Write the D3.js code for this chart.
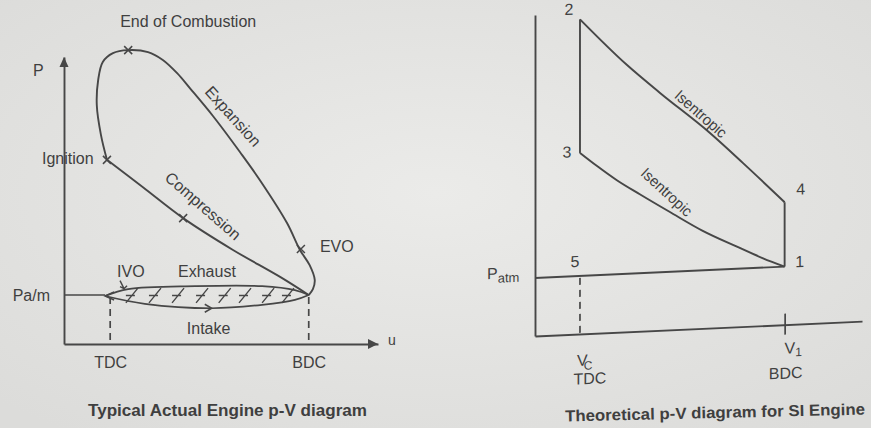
<!DOCTYPE html>
<html>
<head>
<meta charset="utf-8">
<script src="https://cdn.jsdelivr.net/npm/d3@7"></script>
<style>
  body { margin: 0; background: #e6e6e4; }
  svg { display: block; }
  text { font-family: "Liberation Sans", Arial, sans-serif; fill: #3f3f3f; }
</style>
</head>
<body>
<svg id="chart" width="871" height="428"></svg>
<script>
// ---------- Actual engine cycle: relative volume, pressure in multiples of Pa/m ----------
const actualAxisLabels = ["TDC", "BDC"];
const actualAxisVolumes = [1.0, 5.3];
const atmosphericPressure = 1.0;
// ignition -> end of combustion -> expansion -> EVO -> BDC
const hotLoop = [[0.93,3.76],[0.80,4.27],[0.71,4.88],[0.74,5.39],[0.84,5.76],[1.06,5.94],[1.39,6.00],
  [1.82,5.96],[2.14,5.80],[2.45,5.53],[2.73,5.22],[3.23,4.65],[3.81,3.92],[4.24,3.35],[4.83,2.47],
  [5.11,1.92],[5.32,1.61],[5.43,1.31],[5.39,1.12],[5.30,1.00]];
// BDC -> ignition
const compressionStroke = [[5.30,1.00],[4.68,1.37],[3.66,1.92],[2.58,2.57],[1.71,3.20],[0.93,3.76]];
const exhaustStroke = [[5.30,1.00],[5.00,1.10],[4.29,1.18],[2.84,1.18],[1.39,1.12],[0.89,0.98]];
const intakeStroke = [[0.89,0.98],[1.75,0.82],[3.20,0.73],[4.29,0.80],[5.00,0.90],[5.30,1.00]];
const actualEvents = ["Ignition", "End of Combustion", "EVO"];
const actualEventPoints = [[0.93,3.76],[1.39,6.00],[5.13,1.94]];
const compressionMark = [2.58, 2.57];
const ivoPoint = [1.30, 1.11];
const pumpingHatch = [1.47, 1.97, 2.47, 2.99, 3.48, 3.92, 4.42, 4.85];

// ---------- Theoretical SI (Otto) cycle ----------
const siStates = ["1", "2", "3", "4", "5"];
const siVolumes = [5.55, 1.0, 1.0, 5.55, 1.0];
const siPressures = [1.0, 5.42, 3.12, 2.11, 1.0];
const siExpansion = [[1.0,5.42],[2.04,4.60],[2.78,4.09],[3.89,3.36],[4.62,2.82],[5.55,2.11]];
const siCompression = [[1.0,3.12],[1.38,2.88],[1.82,2.62],[2.33,2.36],[3.00,2.03],[3.73,1.68],
  [4.49,1.38],[5.07,1.16],[5.55,1.0]];
const siAxisVolumes = [1.0, 5.55];

const INK = "#474747";
const svg = d3.select("#chart");

// paper
const defs = svg.append("defs");
const paper = defs.append("radialGradient").attr("id", "paper")
  .attr("cx", "50%").attr("cy", "45%").attr("r", "70%");
paper.append("stop").attr("offset", "0%").attr("stop-color", "#ebebe9");
paper.append("stop").attr("offset", "100%").attr("stop-color", "#dcdcda");
svg.append("rect").attr("width", 871).attr("height", 428).attr("fill", "url(#paper)");

const curve = d3.line().curve(d3.curveCatmullRom.alpha(0.5));
const smooth = d3.line().curve(d3.curveMonotoneX);

// ================= Left: typical actual engine p-V diagram =================
const xL = d3.scaleLinear().domain([0, 6.8]).range([64, 378]);
const yL = d3.scaleLinear().domain([0, 5.86]).range([344, 57]);
const gL = svg.append("g");
const ptL = d => [xL(d[0]), yL(d[1])];

const axX = gL.append("g").attr("transform", `translate(0,${yL(0)})`)
  .call(d3.axisBottom(xL).tickValues(actualAxisVolumes)
    .tickFormat((d, i) => actualAxisLabels[i]).tickSize(0).tickSizeOuter(0).tickPadding(13));
const axY = gL.append("g").attr("transform", `translate(${xL(0)},0)`)
  .call(d3.axisLeft(yL).tickValues([atmosphericPressure])
    .tickFormat(() => "Pa/m").tickSize(0).tickSizeOuter(0).tickPadding(14));
[axX, axY].forEach(a => {
  a.attr("font-family", null).attr("font-size", null);
  a.select(".domain").attr("stroke", INK).attr("stroke-width", 1.9);
  a.selectAll("text").attr("fill", "#3f3f3f").style("font-size", "16px");
});
// arrowheads
gL.append("path")
  .attr("d", `M${xL(0)},${yL(5.86)} l-4.5,10 l9,0 z`).attr("fill", INK);
gL.append("path")
  .attr("d", `M${xL(6.8)},${yL(0)} l-10,-5 l0,10 z`).attr("fill", INK);
gL.append("text").attr("x", 33).attr("y", 76).style("font-size", "16px").text("P");
gL.append("text").attr("x", xL(6.8) + 10).attr("y", yL(0) + 1).style("font-size", "14px").text("u");

// atmospheric line up to the pumping loop
gL.append("line")
  .attr("x1", xL(0)).attr("x2", xL(intakeStroke[0][0]))
  .attr("y1", yL(atmosphericPressure)).attr("y2", yL(atmosphericPressure))
  .attr("stroke", INK).attr("stroke-width", 1.7);

// dead-centre guides
gL.selectAll("line.dc").data(actualAxisVolumes).join("line").attr("class", "dc")
  .attr("x1", d => xL(d)).attr("x2", d => xL(d))
  .attr("y1", yL(atmosphericPressure) + 2).attr("y2", yL(0))
  .attr("stroke", INK).attr("stroke-width", 1.7).attr("stroke-dasharray", "7,5");

// main loop
[hotLoop, compressionStroke].forEach(s => {
  gL.append("path").attr("d", curve(s.map(ptL)))
    .attr("fill", "none").attr("stroke", INK).attr("stroke-width", 1.9);
});
// pumping loop
[exhaustStroke, intakeStroke].forEach(s => {
  gL.append("path").attr("d", curve(s.map(ptL)))
    .attr("fill", "none").attr("stroke", INK).attr("stroke-width", 1.7);
});
// hatching of the pumping loop
pumpingHatch.forEach(v => {
  const x = xL(v);
  const y1 = yL(0.84), y2 = yL(1.14), ym = (y1 + y2) / 2;
  gL.append("path")
    .attr("d", `M${x - 6},${y1} L${x + 6},${y2} M${x - 6},${ym} L${x + 3},${ym}`)
    .attr("fill", "none").attr("stroke", INK).attr("stroke-width", 1.4);
});
// flow direction marks
const tip = ptL(exhaustStroke[exhaustStroke.length - 1]);
gL.append("path").attr("d", `M${tip[0] + 9},${tip[1] - 4} L${tip[0]},${tip[1]} L${tip[0] + 9},${tip[1] + 4}`)
  .attr("fill", "none").attr("stroke", INK).attr("stroke-width", 1.5);
const intakeMid = ptL(intakeStroke[2]);
gL.append("path").attr("d", `M${intakeMid[0] - 7},${intakeMid[1] - 4} L${intakeMid[0]},${intakeMid[1]} L${intakeMid[0] - 7},${intakeMid[1] + 4}`)
  .attr("fill", "none").attr("stroke", INK).attr("stroke-width", 1.5);
const ivo = ptL(ivoPoint);
gL.append("path").attr("d", `M${ivo[0] - 4},${ivo[1] - 9} L${ivo[0]},${ivo[1] - 1} M${ivo[0] - 4},${ivo[1] - 3} L${ivo[0]},${ivo[1] - 1} L${ivo[0] + 3},${ivo[1] - 4}`)
  .attr("fill", "none").attr("stroke", INK).attr("stroke-width", 1.4);

// event marks
actualEventPoints.concat([compressionMark]).forEach(d => {
  const [x, y] = ptL(d);
  gL.append("path").attr("d", `M${x - 4},${y - 4} L${x + 4},${y + 4} M${x - 4},${y + 4} L${x + 4},${y - 4}`)
    .attr("stroke", INK).attr("stroke-width", 1.5);
});

// labels
const [ign, eoc, evo] = actualEventPoints.map(ptL);
gL.append("text").attr("x", ign[0] - 65).attr("y", ign[1] + 4).style("font-size", "16px").text(actualEvents[0]);
gL.append("text").attr("x", eoc[0] + 60).attr("y", eoc[1] - 23).attr("text-anchor", "middle")
  .style("font-size", "16px").text(actualEvents[1]);
gL.append("text").attr("x", evo[0] + 19).attr("y", evo[1] + 3).style("font-size", "16px").text(actualEvents[2]);
gL.append("text").attr("x", xL(1.15)).attr("y", yL(1.37)).style("font-size", "16px").text("IVO");
gL.append("text").attr("x", xL(2.47)).attr("y", yL(1.37)).style("font-size", "16px").text("Exhaust");
gL.append("text").attr("x", xL(2.66)).attr("y", yL(0.2)).style("font-size", "16px").text("Intake");
gL.append("text").attr("text-anchor", "middle").attr("dominant-baseline", "middle")
  .attr("transform", `translate(${xL(3.64)},${yL(4.63)}) rotate(48)`)
  .style("font-size", "16px").text("Expansion");
gL.append("text").attr("text-anchor", "middle").attr("dominant-baseline", "middle")
  .attr("transform", `translate(${xL(2.99)},${yL(2.8)}) rotate(41)`)
  .style("font-size", "16px").text("Compression");
gL.append("text").attr("x", 227.5).attr("y", 416).attr("text-anchor", "middle")
  .attr("textLength", 279).attr("lengthAdjust", "spacingAndGlyphs")
  .style("font-size", "16px").style("font-weight", "bold").attr("fill", "#303030")
  .text("Typical Actual Engine p-V diagram");

// ================= Right: theoretical p-V diagram for SI engine =================
const xR = d3.scaleLinear().domain([0, 7.27]).range([0, 327]);
const yR = d3.scaleLinear().domain([0, 5.53]).range([0, -321]);
const gR = svg.append("g").attr("transform", "translate(535,336) skewY(-2.6)");
const ptR = d => [xR(d[0]), yR(d[1])];

const rX = gR.append("g")
  .call(d3.axisBottom(xR).tickValues([siAxisVolumes[1]]).tickFormat("").tickSize(10).tickSizeOuter(0));
rX.selectAll(".tick line").attr("y1", -11).attr("y2", 10).attr("stroke", INK).attr("stroke-width", 1.7);
const rY = gR.append("g")
  .call(d3.axisLeft(yR).tickValues([]).tickSizeOuter(0));
[rX, rY].forEach(a => a.select(".domain").attr("stroke", INK).attr("stroke-width", 1.9));

const s = siStates.map((id, i) => ({ id, x: xR(siVolumes[i]), y: yR(siPressures[i]) }));
const S = Object.fromEntries(s.map(d => [d.id, d]));

// intake / exhaust line at atmospheric pressure
gR.append("line").attr("x1", xR(0)).attr("x2", S["1"].x).attr("y1", yR(1)).attr("y2", S["1"].y)
  .attr("stroke", INK).attr("stroke-width", 1.9);
// constant-volume lines
[["1", "4"], ["2", "3"]].forEach(([a, b]) => {
  gR.append("line").attr("x1", S[a].x).attr("y1", S[a].y).attr("x2", S[b].x).attr("y2", S[b].y)
    .attr("stroke", INK).attr("stroke-width", 1.9);
});
// isentropic curves
[siExpansion, siCompression].forEach(c => {
  gR.append("path").attr("d", smooth(c.map(ptR)))
    .attr("fill", "none").attr("stroke", INK).attr("stroke-width", 1.9);
});
// clearance volume guide
gR.append("line").attr("x1", S["5"].x).attr("x2", S["5"].x).attr("y1", S["5"].y + 2).attr("y2", 0)
  .attr("stroke", INK).attr("stroke-width", 1.7).attr("stroke-dasharray", "7,5");

// state labels
const stateOffsets = { "1": [15, 1], "2": [-11, -5], "3": [-13, 4], "4": [16, -7], "5": [-5, -9] };
s.forEach(d => {
  gR.append("text").attr("x", d.x + stateOffsets[d.id][0]).attr("y", d.y + stateOffsets[d.id][1])
    .attr("text-anchor", "middle").style("font-size", "16px").text(d.id);
});
const pa = gR.append("text").attr("x", xR(0) - 48).attr("y", yR(1) - 1).style("font-size", "16px");
pa.append("tspan").text("P");
pa.append("tspan").attr("dy", 4).style("font-size", "13px").text("atm");

const vc = gR.append("text").attr("x", xR(siAxisVolumes[0]) - 3).attr("y", 32).style("font-size", "16px");
vc.append("tspan").text("V");
vc.append("tspan").attr("dy", 4).attr("dx", -4).style("font-size", "12px").text("C");
gR.append("text").attr("x", xR(siAxisVolumes[0]) + 10).attr("y", 50.5).attr("text-anchor", "middle")
  .style("font-size", "16px").text("TDC");
const v1 = gR.append("text").attr("x", xR(siAxisVolumes[1])).attr("y", 29).style("font-size", "16px");
v1.append("tspan").text("V");
v1.append("tspan").attr("dy", 3).style("font-size", "12px").text("1");
gR.append("text").attr("x", xR(siAxisVolumes[1]) + 1).attr("y", 54).attr("text-anchor", "middle")
  .style("font-size", "16px").text("BDC");

gR.append("text").attr("text-anchor", "middle").attr("dominant-baseline", "middle")
  .attr("transform", `translate(${xR(3.67)},${yR(3.68)}) rotate(42.5)`)
  .style("font-size", "15px").text("Isentropic");
gR.append("text").attr("text-anchor", "middle").attr("dominant-baseline", "middle")
  .attr("transform", `translate(${xR(2.91)},${yR(2.36)}) rotate(44)`)
  .style("font-size", "15px").text("Isentropic");

svg.append("text").attr("transform", "rotate(-1.3,715,413)")
  .attr("x", 715).attr("y", 418).attr("text-anchor", "middle")
  .attr("textLength", 300).attr("lengthAdjust", "spacingAndGlyphs")
  .style("font-size", "16px").style("font-weight", "bold").attr("fill", "#303030")
  .text("Theoretical p-V diagram for SI Engine");
</script>
</body>
</html>
